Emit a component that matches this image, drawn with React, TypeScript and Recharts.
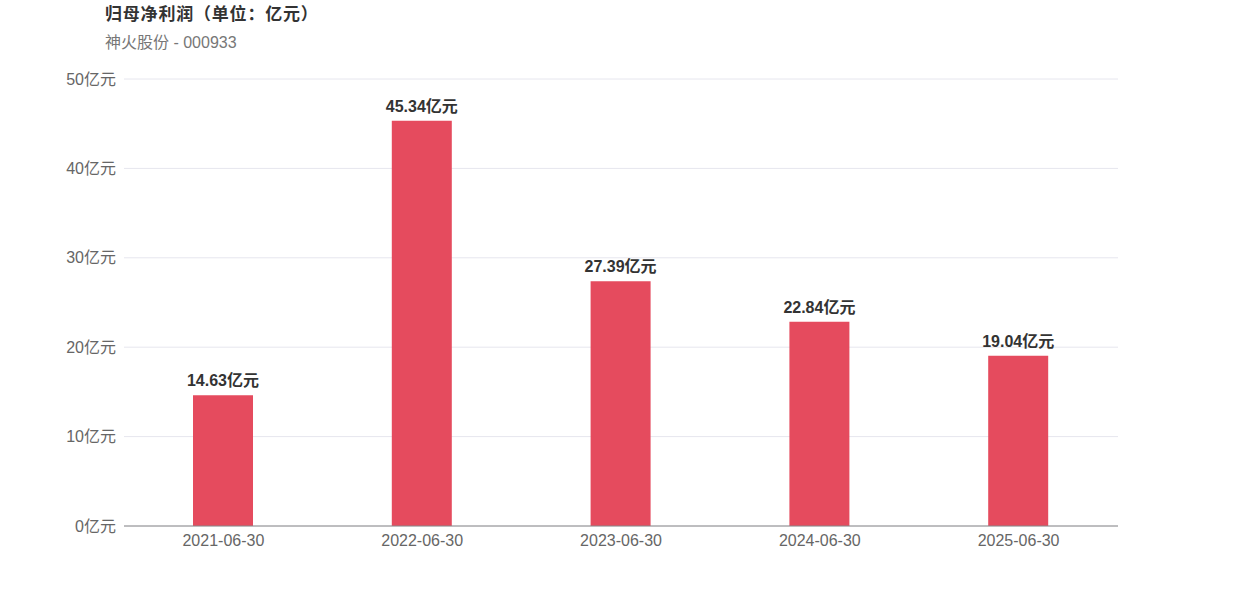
import React from 'react';
import { BarChart, Bar, XAxis, YAxis, CartesianGrid, LabelList } from 'recharts';

const periods = ['2021-06-30', '2022-06-30', '2023-06-30', '2024-06-30', '2025-06-30'];
const profits = [14.63, 45.34, 27.39, 22.84, 19.04];
const yTicks = [0, 10, 20, 30, 40, 50];

const FONT = '"Liberation Sans", Arial, "Noto Sans CJK SC", sans-serif';

export default function App() {
  const data = periods.map((p, i) => ({ period: p, value: profits[i] }));

  return (
    <div style={{ position: 'absolute', left: 0, top: 0, width: 1242, height: 596, fontFamily: FONT }}>
      <div style={{ position: 'absolute', left: 105, top: 0, fontSize: 17, fontWeight: 'bold', color: '#333', letterSpacing: 0.8 }}>
        归母净利润（单位：亿元）
      </div>
      <div style={{ position: 'absolute', left: 105, top: 29, fontSize: 16, color: '#777' }}>
        神火股份 - 000933
      </div>
      <BarChart
        width={1242}
        height={596}
        data={data}
        margin={{ top: 79, right: 124, bottom: 0, left: 0 }}
        style={{ fontFamily: FONT }}
      >
        <CartesianGrid vertical={false} stroke="#e6e6ee" />
        <XAxis
          dataKey="period"
          height={70}
          tickLine={false}
          tickSize={0}
          axisLine={{ stroke: '#888' }}
          tick={{ fill: '#666', fontSize: 16 }}
          tickMargin={9}
        />
        <YAxis
          width={124}
          domain={[0, 50]}
          ticks={yTicks}
          tickLine={false}
          tickSize={0}
          axisLine={false}
          tick={{ fill: '#666', fontSize: 16 }}
          tickMargin={8}
          tickFormatter={(v: number) => `${v}亿元`}
        />
        <Bar dataKey="value" fill="#e54b5e" barSize={60} isAnimationActive={false}>
          <LabelList
            dataKey="value"
            position="top"
            offset={9}
            formatter={(v: any) => `${Number(v).toFixed(2)}亿元`}
            style={{ fill: '#333', fontSize: 16, fontWeight: 'bold' }}
          />
        </Bar>
      </BarChart>
    </div>
  );
}
